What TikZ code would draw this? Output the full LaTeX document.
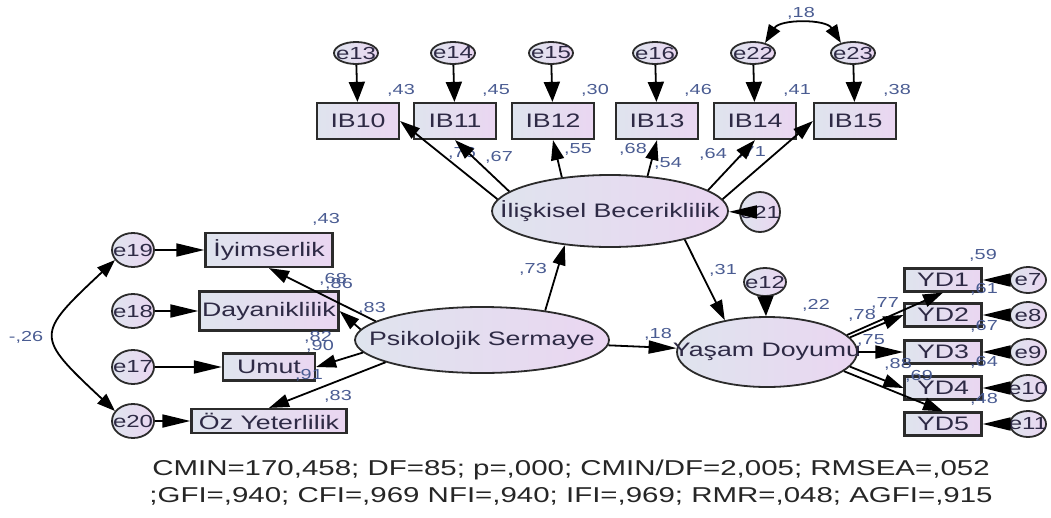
\documentclass[tikz,border=0pt]{standalone}
\usepackage{fontspec}
\setmainfont{Liberation Sans}[FakeStretch=1.37]
\usetikzlibrary{arrows.meta, shapes.geometric}
\definecolor{cleft}{HTML}{DFE4EE}
\definecolor{cright}{HTML}{EAD6F1}
\definecolor{cline}{HTML}{2B2B2B}
\definecolor{ctext}{HTML}{2E2A45}
\definecolor{cest}{HTML}{4A5C92}
\newcommand{\ctr}[1]{\makebox[0pt]{#1}}
\tikzset{
  every picture/.style={line width=1.6pt},
  obs/.style={draw=cline, line width=2.2pt, left color=cleft, right color=cright, text=ctext, inner sep=0pt, font=\fontsize{19.5}{20}\selectfont},
  lat/.style={ellipse, draw=cline, line width=1.8pt, left color=cleft, right color=cright, text=ctext, inner sep=0pt, font=\fontsize{19.5}{20}\selectfont},
  err/.style={lat, font=\fontsize{17.5}{18}\selectfont},
  arrow/.style={-{Triangle[length=20pt, width=13pt]}, draw=black, line width=1.8pt},
  harrow/.style={-{Triangle[length=28pt, width=13pt]}, draw=black, line width=1.8pt},
  varrow/.style={-{Triangle[length=20pt, width=16pt]}, draw=black, line width=1.8pt},
  cov/.style={{Triangle[length=18pt, width=13pt]}-{Triangle[length=18pt, width=13pt]}, draw=black, line width=1.8pt},
  est/.style={font=\fontsize{14.5}{15}\selectfont, text=cest, inner sep=0pt},
}

\begin{document}
\begin{tikzpicture}[x=1pt, y=-1pt]
  \useasboundingbox (0,0) rectangle (1051,517);

  % latent variables
  \node[lat, minimum width=236pt, minimum height=72pt] (ib) at (610,211) {\ctr{İlişkisel Beceriklilik}};
  \node[lat, minimum width=254pt, minimum height=66pt] (ps) at (482,340) {\ctr{Psikolojik Sermaye}};
  \node[lat, minimum width=180pt, minimum height=70pt] (yd) at (767,352) {\ctr{Yaşam Doyumu}};
  \node[err, minimum width=40pt, minimum height=40pt] (e21) at (760,212) {\ctr{e21}};
  \node[err, minimum width=42pt, minimum height=28pt] (e12) at (765,282) {\ctr{e12}};
  \draw[harrow] (e21) -- (ib);
  \draw[varrow] (e12) -- (yd);

  % IB indicators
  \foreach \i/\x/\e in {10/358/13, 11/455/14, 12/553/15, 13/657/16, 14/755/22, 15/855/23} {
    \node[obs, minimum width=82pt, minimum height=36pt] (ib\i) at (\x,121) {IB\i};
    \node[err, minimum width=44pt, minimum height=22pt] (e\e) at (\x-2,53) {\ctr{e\e}};
    \draw[varrow] (e\e) -- (ib\i);
  }
  \draw[cov] (e22.40) .. controls +(15,-24) and +(-15,-24) .. (e23.140);

  % PS indicators
  \foreach \n/\y/\e/\w/\h/\t in {iyim/250/19/127/34/İyimserlik, daya/311/18/139/39/Dayaniklilik, umut/367/17/92/27/Umut, oz/421/20/155/24/Öz Yeterlilik} {
    \node[obs, minimum width=\w pt, minimum height=\h pt] (\n) at (269,\y) {\t};
    \node[err, minimum width=42pt, minimum height=34pt] (e\e) at (133,\y) {\ctr{e\e}};
    \draw[harrow] (e\e) -- (\n);
  }
  \draw[cov] (e19.209) .. controls +(-80,75) and +(-80,-75) .. (e20.151);

  % YD indicators
  \foreach \i/\y/\e in {1/280/7, 2/315/8, 3/352/9, 4/388/10, 5/424/11} {
    \node[obs, minimum width=77pt, minimum height=23pt] (yd\i) at (943,\y) {YD\i};
    \node[err, minimum width=36pt, minimum height=26pt] (e\e) at (1028,\y) {\ctr{e\e}};
    \draw[harrow] (e\e) -- (yd\i);
  }

  % estimates
  \foreach \v/\x/\y in {43/401/90, 45/496/90, 30/595/90, 46/698/90, 41/797/90, 38/897/90, 18/801/13,
      76/462/153, 67/499/157, 55/578/149, 68/633/149, 54/668/163, 64/713/154, 71/752/152,
      73/533/269, 31/723/270, 22/816/305, 18/658/334,
      77/885/303, 78/862/315, 75/871/340, 88/898/364, 69/919/376,
      59/983/255, 61/984/289, 67/984/326, 64/984/362, 48/984/399,
      43/326/219, 68/333/279, 86/339/284, 83/372/308, 82/318/337, 90/320/346, 91/309/375, 83/338/396}
    \node[est] at (\x,\y) {,\v};
  \node[est] (r26) at (26,337) {-,26};

  % paths
  \draw[arrow] (ib.174) -- (ib10.east);
  \draw[arrow] (ib.169) -- (ib11.south);
  \draw[arrow] (ib.145) -- (ib12.south);
  \draw[arrow] (ib.43) -- (ib13.south);
  \draw[arrow] (ib.12) -- (ib14.south);
  \draw[arrow] (ib.6) -- (ib15.west);
  \draw[arrow] (ps.170) -- (iyim.south);
  \draw[arrow] (ps.175) -- (daya.east);
  \draw[arrow] (ps.186) -- (umut.east);
  \draw[arrow] (ps.193) -- (oz.north);
  \draw[arrow] (ps.25) -- (ib.217);
  \draw[harrow] (ps) -- (yd);
  \draw[arrow] (ib.-21) -- (yd.143);
  \draw[arrow] (yd.12) -- (yd1.south);
  \draw[arrow] (yd.10) -- (yd2.west);
  \draw[harrow] (yd.east) -- (yd3.west);
  \draw[arrow] (yd.-10) -- (yd4.west);
  \draw[arrow] (yd.-14) -- (yd5.north);

  % fit indices
  \node[font=\fontsize{21.5}{27}\selectfont, text=black!85, align=center] (fitidx) at (571,483)
    {CMIN=170,458; DF=85; p=,000; CMIN/DF=2,005; RMSEA=,052\\;GFI=,940; CFI=,969 NFI=,940; IFI=,969; RMR=,048; AGFI=,915};
\end{tikzpicture}
\end{document}
